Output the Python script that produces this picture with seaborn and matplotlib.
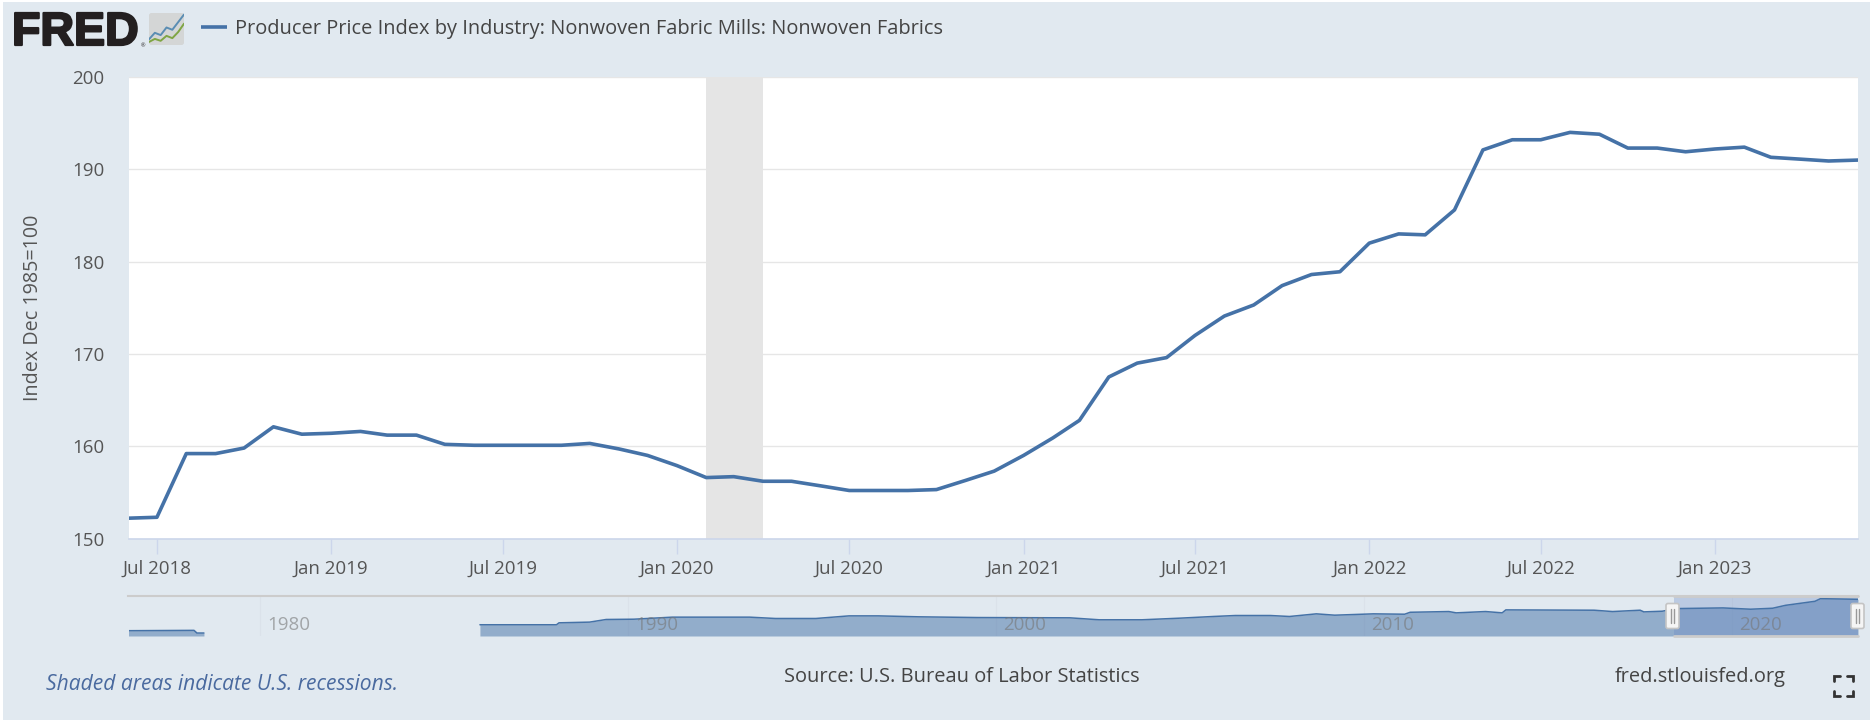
"""FRED chart: PPI by Industry, Nonwoven Fabric Mills: Nonwoven Fabrics."""

import matplotlib.patheffects as pe
import matplotlib.pyplot as plt
import pandas as pd
import seaborn as sns
from matplotlib.lines import Line2D
from matplotlib.patches import FancyBboxPatch, Rectangle

W, H = 1870, 721
BG = "#e1e9f0"
BLUE = "#4572a7"

months = pd.date_range("2018-06-01", "2023-06-01", freq="MS")
ppi = [
    152.2, 152.3, 159.2, 159.2, 159.8, 162.1, 161.3,
    161.4, 161.6, 161.2, 161.2, 160.2, 160.1, 160.1, 160.1, 160.1, 160.3, 159.7, 159.0,
    157.9, 156.6, 156.7, 156.2, 156.2, 155.7, 155.2, 155.2, 155.2, 155.3, 156.3, 157.3,
    159.0, 160.9, 162.8, 167.5, 169.0, 169.6, 172.0, 174.1, 175.3, 177.4, 178.6, 178.9,
    182.0, 183.0, 182.9, 185.6, 192.1, 193.2, 193.2, 194.0, 193.8, 192.3, 192.3, 191.9,
    192.2, 192.4, 191.3, 191.1, 190.9, 191.0,
]
recession = ("2020-02-01", "2020-04-01")
x_ticks = ["2018-07-01", "2019-01-01", "2019-07-01", "2020-01-01", "2020-07-01",
           "2021-01-01", "2021-07-01", "2022-01-01", "2022-07-01", "2023-01-01"]
x_labels = ["Jul 2018", "Jan 2019", "Jul 2019", "Jan 2020", "Jul 2020",
            "Jan 2021", "Jul 2021", "Jan 2022", "Jul 2022", "Jan 2023"]
y_ticks = [150, 160, 170, 180, 190, 200]

# navigator: the older stretch, then the long one after the gap
nav_early_years = [1976.42, 1978.2, 1978.28, 1978.47]
nav_early_vals = [78.6, 79.8, 70.2, 70.2]
nav_years = [1985.97, 1988.05, 1988.12, 1988.95, 1989.4, 1990.15, 1991.2, 1992.5, 1993.3,
             1994.0, 1995.1, 1996.0, 1996.8, 1997.9, 1999.5, 2002.0, 2002.8, 2003.96,
             2005.0, 2005.9, 2006.5, 2007.45, 2007.97, 2008.7, 2009.2, 2010.25, 2011.1,
             2011.25, 2012.3, 2012.5, 2013.3, 2013.75, 2013.85, 2016.25, 2016.75, 2017.5,
             2017.6, 2018.1, 2018.5, 2019.75, 2020.5, 2021.1, 2021.45, 2022.25, 2022.4,
             2023.42]
nav_vals = [100, 100, 107, 109.5, 119, 120, 127.4, 127.4, 127.4,
            122.6, 122.6, 132, 132, 128.6, 126, 125, 117.9, 117.9,
            123.8, 129.8, 133.3, 133.3, 129.8, 139.3, 134.5, 139.3, 138,
            145, 147.6, 142.9, 147.6, 142.9, 153.6, 152.4, 147.6, 152.4,
            146.4, 148.8, 158.3, 160.7, 156, 159.5, 170, 184.5, 194,
            191.7]
nav_ticks = [1980, 1990, 2000, 2010, 2020]

# little chart in the logo
icon_x = [0, 1, 2, 3, 4, 5, 6]
icon_blue = [1.5, 3.2, 2.6, 4.6, 4.0, 6.0, 8.0]
icon_green = [0.8, 1.6, 1.1, 2.4, 1.8, 3.4, 5.6]

sns.set_theme(style="white")
plt.rcParams["font.family"] = ["Open Sans", "DejaVu Sans"]


def px_axes(fig, left, top, right, bottom, **kw):
    """Axes placed by pixel edges, measured from the top left."""
    return fig.add_axes([left / W, 1 - bottom / H, (right - left) / W, (bottom - top) / H], **kw)


fig = plt.figure(figsize=(W / 100, H / 100), dpi=100, facecolor=BG)

# main chart
ax = px_axes(fig, 128.5, 77, 1858, 538.5)
ax.set_facecolor("white")
ax.axvspan(pd.Timestamp(recession[0]), pd.Timestamp(recession[1]), color="#e5e5e5", lw=0, zorder=1)
sns.lineplot(x=months, y=ppi, ax=ax, color=BLUE, linewidth=2.6, zorder=3)
ax.set_xlim(months[0], months[-1])
ax.set_ylim(150, 200)
ax.set_yticks(y_ticks)
ax.set_xticks(pd.to_datetime(x_ticks))
ax.set_xticklabels(x_labels)
ax.grid(axis="y", color="#e6e6e6", lw=1.0, zorder=0)
ax.set_axisbelow(True)
for name in ["top", "left", "right"]:
    ax.spines[name].set_visible(False)
ax.spines["bottom"].set_color("#ccd6eb")
ax.spines["bottom"].set_linewidth(1.2)
ax.tick_params(axis="x", length=11, width=1, color="#ccd6eb", pad=4.5, labelsize=13.5, labelcolor="#555555", bottom=True)
ax.tick_params(axis="y", length=0, pad=17.5, labelsize=13.5, labelcolor="#555555")
ax.set_xlabel("")
ax.set_ylabel("")

# navigator
nav = px_axes(fig, 128.5, 596, 1858, 636)
nav.patch.set_alpha(0)
nav.fill_between(nav_early_years, nav_early_vals, 59.5, color=BLUE, alpha=0.5, lw=0)
nav.fill_between(nav_years, nav_vals, 59.5, color=BLUE, alpha=0.5, lw=0)
sns.lineplot(x=nav_early_years, y=nav_early_vals, ax=nav, color=BLUE, linewidth=1.1)
sns.lineplot(x=nav_years, y=nav_vals, ax=nav, color=BLUE, linewidth=1.1)
nav.set_xlim(1976.42, 2023.42)
nav.set_ylim(59.5, 203.6)
nav.axvspan(2018.42, 2023.42, color="#6685c2", alpha=0.3, lw=0)
nav.set_xticks(nav_ticks)
nav.set_yticks([])
nav.set_xlabel("")
nav.set_ylabel("")
nav.tick_params(axis="x", labelbottom=False, length=0)
nav.grid(axis="x", color="#dbe2ea", lw=0.8)
for name in ["left", "right", "bottom"]:
    nav.spines[name].set_visible(False)
nav.spines["top"].set_color("#cccccc")
nav.spines["top"].set_linewidth(1.5)
for yr in nav_ticks:
    nav.text(yr + 0.19, 0.28, str(yr), transform=nav.get_xaxis_transform(), va="center", ha="left",
             fontsize=13.5, color="#777777", alpha=0.6)
nav.plot([2018.42, 2023.42], [59.5, 59.5], color="#cccccc", lw=2, clip_on=False)
nav.plot([2018.42, 2023.42], [203.6, 203.6], color="#cccccc", lw=2, clip_on=False)

# page furniture in pixel coordinates
page = fig.add_axes([0, 0, 1, 1], zorder=5)
page.set_xlim(0, W)
page.set_ylim(H, 0)
page.axis("off")
page.add_patch(Rectangle((0, 0), 3, H, color="white", lw=0))
page.add_patch(Rectangle((0, 0), W, 1.5, color="white", lw=0))
page.add_patch(Rectangle((0, H - 1), W, 1, color="white", lw=0))

# slider handles
for left in [1666, 1851]:
    page.add_patch(FancyBboxPatch((left, 603.5), 13, 25, boxstyle="round,pad=0,rounding_size=2",
                                  fc="#f5f5f5", ec="#c4c4c4", lw=1.2))
    for dx in [5, 8]:
        page.add_line(Line2D([left + dx, left + dx], [609, 623], color="#999999", lw=1))

# logo
logo = page.text(12, 45, "FRED", fontsize=33.5, family="Liberation Sans", weight="bold", color="#231f20",
                 va="baseline", ha="left")
logo.set_path_effects([pe.withStroke(linewidth=1.6, foreground="#231f20")])
page.text(141, 47, "®", fontsize=4, color="#231f20", va="baseline", ha="left")
page.add_patch(FancyBboxPatch((149, 13), 35, 32, boxstyle="round,pad=0,rounding_size=2.5", fc="#d4d6d6", ec="none"))
icon = px_axes(fig, 149, 13, 184, 45, zorder=6)
icon.axis("off")
icon.set_xlim(0, 6)
icon.set_ylim(0, 8.4)
sns.lineplot(x=icon_x, y=icon_blue, ax=icon, color="#5a8db3", linewidth=1.4)
sns.lineplot(x=icon_x, y=icon_green, ax=icon, color="#7fa544", linewidth=1.4)
icon.set_xlabel("")
icon.set_ylabel("")

# legend key and title
page.add_line(Line2D([201, 227], [27, 27], color=BLUE, lw=2.6, solid_capstyle="butt"))
page.text(235, 29, "Producer Price Index by Industry: Nonwoven Fabric Mills: Nonwoven Fabrics",
          fontsize=14.4, color="#444444", va="center", ha="left")

page.text(33.5, 308, "Index Dec 1985=100", rotation=90, fontsize=14.2, color="#555555", va="center", ha="center")
page.text(46, 685, "Shaded areas indicate U.S. recessions.", fontsize=15.1, style="italic", color="#4a6a9f",
          va="center", ha="left")
page.text(784, 677, "Source: U.S. Bureau of Labor Statistics", fontsize=14.4, color="#444444", va="center", ha="left")
page.text(1615, 677, "fred.stlouisfed.org", fontsize=14.4, color="#444444", va="center", ha="left")

# fullscreen corners
corners = [([1834, 1834, 1840], [681, 676, 676]), ([1847, 1853, 1853], [676, 676, 681]),
           ([1834, 1834, 1840], [691, 696, 696]), ([1847, 1853, 1853], [696, 696, 691])]
for xs, ys in corners:
    page.add_line(Line2D(xs, ys, color="#333333", lw=2, solid_joinstyle="miter"))

fig.savefig("out.png", dpi=100, facecolor=fig.get_facecolor())
